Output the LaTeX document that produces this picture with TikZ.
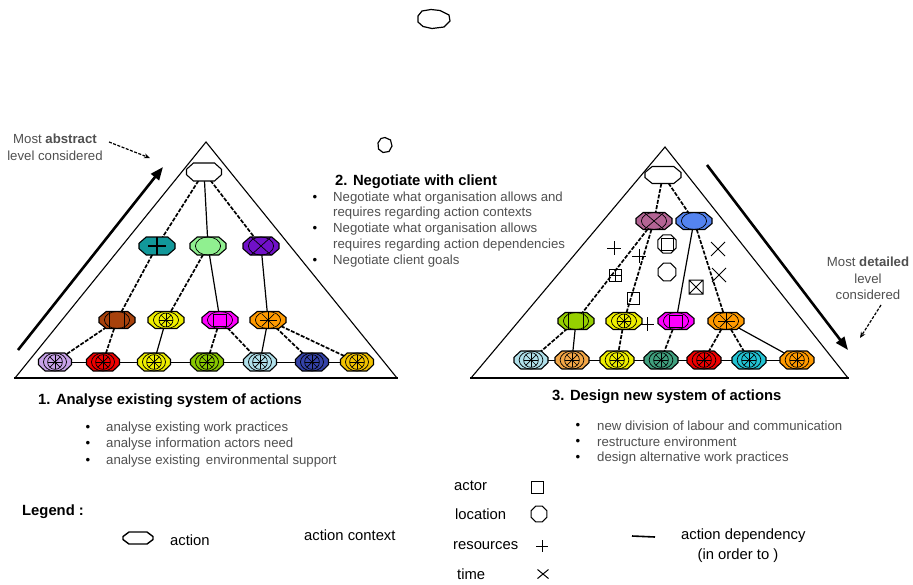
\documentclass[tikz,border=0pt]{standalone}
\usepackage{fontspec}
\setmainfont{Liberation Sans}
\usetikzlibrary{arrows.meta,shapes.geometric,backgrounds}
\definecolor{gtext}{HTML}{505050}
\definecolor{cteal}{HTML}{12989A}
\definecolor{clgreen}{HTML}{90F090}
\definecolor{cpurple}{HTML}{7010C8}
\definecolor{cbrown}{HTML}{A8420C}
\definecolor{cyellow}{HTML}{EEEE00}
\definecolor{cmag}{HTML}{FF00FF}
\definecolor{corange}{HTML}{FF9A00}
\definecolor{clav}{HTML}{C8A2E8}
\definecolor{cred}{HTML}{EE0000}
\definecolor{cgreen}{HTML}{88C800}
\definecolor{clblue}{HTML}{B0E0EA}
\definecolor{cnavy}{HTML}{3442A8}
\definecolor{cgold}{HTML}{F2C200}
\definecolor{cmauve}{HTML}{B46494}
\definecolor{cblue}{HTML}{5484F0}
\definecolor{clime}{HTML}{96D000}
\definecolor{corl}{HTML}{F2A646}
\definecolor{ctgreen}{HTML}{40A07E}
\definecolor{ccyan}{HTML}{22C2D2}
\newcommand{\act}[6]{%
  \node[ellipse,minimum width={2*#5pt},minimum height={2*#6pt},inner sep=0pt] (#1) at (#2) {};
  \begin{scope}[shift={(#2)}]
    \def\hw{#5}\def\hh{#6}%
    \filldraw[fill=#3,oct] (-\hw,-0.3*\hh) -- (-\hw,0.3*\hh) -- (-0.6*\hw,\hh) -- (0.6*\hw,\hh) -- (\hw,0.3*\hh) -- (\hw,-0.3*\hh) -- (0.6*\hw,-\hh) -- (-0.6*\hw,-\hh) -- cycle;
    #4
  \end{scope}}
\newcommand{\patarcs}{\draw[deco] (0,0) ellipse[x radius=0.7*\hw, y radius=\hh];}
\newcommand{\patwheel}{\patarcs\draw[deco] (0,0) circle[radius=0.82*\hh];\foreach \a in {0,45,...,315}{\draw[deco] (0,0) -- (\a:0.82*\hh);}}
\newcommand{\patplus}{\draw[line width=1.5pt] (-0.5*\hw,0) -- (0.5*\hw,0) (0,-\hh) -- (0,\hh);}
\newcommand{\patx}{\patarcs\draw[deco] (-0.55*\hw,-\hh) -- (0.55*\hw,\hh) (-0.55*\hw,\hh) -- (0.55*\hw,-\hh);}
\newcommand{\patsq}{\patarcs\draw[deco] (-0.42*\hw,-\hh) rectangle (0.42*\hw,\hh);}
\newcommand{\patfsq}{\patarcs\draw[deco] (-0.36*\hw,-0.7*\hh) rectangle (0.36*\hw,0.75*\hh);}
\newcommand{\patstar}{\patarcs\foreach \a in {0,45,...,315}{\draw[deco] (0,0) -- (\a:\hh);}\fill (0,0) circle[radius=1.2pt];}
\begin{document}
\begin{tikzpicture}[x=1pt,y=-1pt,
  tri/.style={line width=1.1pt},
  oct/.style={draw=black,line width=1.1pt},
  deco/.style={line width=0.7pt},
  dep/.style={line width=1.7pt,dash pattern=on 4pt off 1.5pt},
  sdep/.style={line width=1.2pt},
  row/.style={line width=1pt},
  sym/.style={line width=1pt},
  gtxt/.style={text=gtext,font=\fontsize{13.2}{15}\selectfont,inner sep=0pt},
  head/.style={font=\bfseries\fontsize{14.8}{17}\selectfont,inner sep=0pt},
  leg/.style={font=\fontsize{14.8}{17}\selectfont,inner sep=0pt},
  bul/.style={font=\fontsize{13.2}{15}\selectfont,inner sep=0pt},
  bigarrow/.style={line width=2.6pt,-{Triangle[length=13pt,width=10pt]}},
  smallarrow/.style={line width=1.2pt,dash pattern=on 3pt off 1.5pt,-{Stealth[length=6pt,width=5pt]}}
]
\useasboundingbox (0,0) rectangle (913,584);

% ---------- left triangle nodes
\act{a0}{204,172}{white}{}{17.5}{9}
\act{a1}{157,246}{cteal}{\patplus}{18}{9}
\act{a2}{208,246}{clgreen}{\patarcs}{18}{9}
\act{a3}{261,246}{cpurple}{\patx}{18}{9}
\act{b1}{117,320}{cbrown}{\patsq}{18}{8.5}
\act{b2}{166,320}{cyellow}{\patwheel}{18}{8.5}
\act{b3}{220,320}{cmag}{\patfsq}{18}{8.5}
\act{b4}{268,320}{corange}{\patstar}{18}{8.5}
\act{c1}{55,362}{clav}{\patwheel}{16.5}{9}
\act{c2}{103,362}{cred}{\patwheel}{16.5}{9}
\act{c3}{154,362}{cyellow}{\patwheel}{16.5}{9}
\act{c4}{207,362}{cgreen}{\patwheel}{16.5}{9}
\act{c5}{260,362}{clblue}{\patwheel}{16.5}{9}
\act{c6}{312,362}{cnavy}{\patwheel}{16.5}{9}
\act{c7}{357,362}{cgold}{\patwheel}{16.5}{9}

% ---------- right triangle nodes
\act{r0}{663,175}{white}{}{18}{8.5}
\act{r1}{654,221}{cmauve}{\patx}{18}{8.5}
\act{r2}{694,221}{cblue}{\patarcs}{18}{8.5}
\act{s1}{576,321}{clime}{\patsq}{18}{8.5}
\act{s2}{624,321}{cyellow}{\patwheel}{18}{8.5}
\act{s3}{676,321}{cmag}{\patfsq}{18}{8.5}
\act{s4}{726,321}{corange}{\patstar}{18}{8.5}
\act{t1}{531,360}{clblue}{\patwheel}{17}{9}
\act{t2}{572,360}{corl}{\patwheel}{17}{9}
\act{t3}{617,360}{cyellow}{\patwheel}{17}{9}
\act{t4}{661,360}{ctgreen}{\patwheel}{17}{9}
\act{t5}{704,360}{cred}{\patwheel}{17}{9}
\act{t6}{749,360}{ccyan}{\patwheel}{17}{9}
\act{t7}{797,360}{corange}{\patwheel}{17}{9}

\begin{scope}[on background layer]
  \fill[white] (0,0) rectangle (913,584);
  % triangles
  \draw[tri] (15,378) -- (206,142) -- (397,378);
  \draw[line width=1.8pt] (14,378) -- (398,378);
  \draw[tri] (471,378) -- (665,147) -- (848,378);
  \draw[line width=1.8pt] (470,378) -- (849,378);
  % left connectors
  \draw[dep] (a0) -- (a1);
  \draw[sdep] (a0) -- (a2);
  \draw[dep] (a0) -- (a3);
  \draw[dep] (a1) -- (b1);
  \draw[dep] (a2) -- (b2);
  \draw[sdep] (a2) -- (b3);
  \draw[sdep] (a3) -- (b4);
  \draw[dep] (b1) -- (c1);
  \draw[dep] (b1) -- (c2);
  \draw[sdep] (b2) -- (c3);
  \draw[dep] (b3) -- (c4);
  \draw[dep] (b3) -- (c5);
  \draw[sdep] (b4) -- (c5);
  \draw[dep] (b4) -- (c6);
  \draw[dep] (b4) -- (c7);
  \draw[row] (c1) -- (c2) -- (c3) -- (c4) -- (c5) -- (c6) -- (c7);
  % right connectors
  \draw[dep] (r0) -- (r1);
  \draw[dep] (r0) -- (r2);
  \draw[dep] (r1) -- (s1);
  \draw[dep] (r1) -- (s2);
  \draw[sdep] (r2) -- (s3);
  \draw[dep] (r2) -- (s4);
  \draw[dep] (s1) -- (t1);
  \draw[sdep] (s1) -- (t2);
  \draw[dep] (s2) -- (t3);
  \draw[dep] (s3) -- (t4);
  \draw[dep] (s4) -- (t5);
  \draw[dep] (s4) -- (t6);
  \draw[sdep] (s4) -- (t7);
  \draw[row] (t1) -- (t2) -- (t3) -- (t4) -- (t5) -- (t6) -- (t7);
\end{scope}

% ---------- context symbols in right triangle
\draw[sym] (607,248) -- (621,248) (614,241) -- (614,255);
\draw[sym] (632,256) -- (646,256) (639,249) -- (639,263);
\draw[sym] (640,324) -- (654,324) (647,317) -- (647,331);
\draw[sym] (609,269) rectangle (621,281) (609,275) -- (621,275) (615,269) -- (615,281);
\draw[sym] (627,292) rectangle (639,304);
\draw[sym] (667,244) +(22.5:10) -- +(67.5:10) -- +(112.5:10) -- +(157.5:10) -- +(202.5:10) -- +(247.5:10) -- +(292.5:10) -- +(337.5:10) -- cycle;
\draw[sym] (661,238) rectangle (673,250);
\draw[sym] (667,272) +(22.5:9.5) -- +(67.5:9.5) -- +(112.5:9.5) -- +(157.5:9.5) -- +(202.5:9.5) -- +(247.5:9.5) -- +(292.5:9.5) -- +(337.5:9.5) -- cycle;
\draw[sym] (689,280) rectangle (703,294) (689,280) -- (703,294) (689,294) -- (703,280);
\draw[sym] (711,242) -- (725,256) (711,256) -- (725,242);
\draw[sym] (712,268) -- (726,282) (712,282) -- (726,268);

% ---------- free shapes
\draw[line width=1.2pt] (434,19) +(-16,-3) -- +(-12,-8) -- +(-3,-9.5) -- +(6,-8.5) -- +(15,-4) -- +(16,2) -- +(10,8) -- +(-2,9.5) -- +(-11,7.5) -- +(-16,3) -- cycle;
\draw[line width=1.2pt] (385,145) +(0,-7.5) -- +(5.5,-5) -- +(7,1) -- +(4,6.5) -- +(-2,7.5) -- +(-6.5,4) -- +(-7,-2) -- +(-4,-6.5) -- cycle;

% ---------- arrows
\coordinate (la1) at (18,350);
\coordinate (la2) at (163,167);
\draw[bigarrow] (la1) -- (la2);
\coordinate (ra1) at (707,165);
\coordinate (ra2) at (848,350);
\draw[bigarrow] (ra1) -- (ra2);

% ---------- texts
\node[gtxt,anchor=center] (abs1) at (55,139) {Most \textbf{abstract}};
\node[gtxt,anchor=center] (abs2) at (55,156) {level considered};
\coordinate (absstart) at (109,142);
\coordinate (absend) at (150,158);
\draw[smallarrow] (absstart) -- (absend);

\node[gtxt,anchor=center] (det1) at (868,262) {Most \textbf{detailed}};
\node[gtxt,anchor=center] (det2) at (868,279) {level};
\node[gtxt,anchor=center] (det3) at (868,295) {considered};
\coordinate (detstart) at (881,305);
\coordinate (detend) at (860,338);
\draw[smallarrow] (detstart) -- (detend);

\node[head,anchor=west] (h2) at (335,182) {2. Negotiate with client};
\node[bul] (b21) at (315,198) {•};
\node[gtxt,anchor=west] (n21) at (333,198) {Negotiate what organisation allows and};
\node[gtxt,anchor=west] (n22) at (333,213) {requires regarding action contexts};
\node[bul] (b23) at (315,229) {•};
\node[gtxt,anchor=west] (n23) at (333,229) {Negotiate what organisation allows};
\node[gtxt,anchor=west] (n24) at (333,245) {requires regarding action dependencies};
\node[bul] (b25) at (315,261) {•};
\node[gtxt,anchor=west] (n25) at (333,261) {Negotiate client goals};

\node[head,anchor=west] (h1) at (38,401) {1. Analyse existing system of actions};
\node[bul] (b11) at (88,428) {•};
\node[gtxt,anchor=west] (n11) at (106,428) {analyse existing work practices};
\node[bul] (b12) at (88,444) {•};
\node[gtxt,anchor=west] (n12) at (106,444) {analyse information actors need};
\node[bul] (b13) at (88,461) {•};
\node[gtxt,anchor=west] (n13) at (106,461) {analyse existing\, environmental support};

\node[head,anchor=west] (h3) at (552,397) {3. Design new system of actions};
\node[bul] (b31) at (578,426) {•};
\node[gtxt,anchor=west] (n31) at (597,426) {new division of labour and communication};
\node[bul] (b32) at (578,442) {•};
\node[gtxt,anchor=west] (n32) at (597,442) {restructure environment};
\node[bul] (b33) at (578,458) {•};
\node[gtxt,anchor=west] (n33) at (597,458) {design alternative work practices};

% ---------- legend
\node[leg,font=\bfseries\fontsize{14.8}{17}\selectfont,anchor=west] (lg) at (22,512) {Legend :};
\draw[line width=1.4pt] (138,538) +(-15,-1.5) -- +(-15,1.5) -- +(-9,6) -- +(9,6) -- +(15,1.5) -- +(15,-1.5) -- +(9,-6) -- +(-9,-6) -- cycle;
\node[leg,anchor=west] (lact) at (170,540) {action};
\node[leg,anchor=west] (lctx) at (304,535) {action context};
\node[leg,anchor=west] (lactor) at (454,486) {actor};
\draw[sym] (531,481) rectangle (543,493);
\node[leg,anchor=west] (lloc) at (455,514) {location};
\draw[sym] (539,514) +(22.5:8.5) -- +(67.5:8.5) -- +(112.5:8.5) -- +(157.5:8.5) -- +(202.5:8.5) -- +(247.5:8.5) -- +(292.5:8.5) -- +(337.5:8.5) -- cycle;
\node[leg,anchor=west] (lres) at (453,546) {resources};
\draw[sym] (536,546) -- (548,546) (542,540) -- (542,552);
\node[leg,anchor=west] (ltime) at (457,574) {time};
\draw[sym] (537.5,569.5) -- (548.5,578.5) (537.5,578.5) -- (548.5,569.5);
\coordinate (ld1) at (632,536);
\coordinate (ld2) at (655,537);
\draw[line width=1.6pt] (ld1) -- (ld2);
\node[leg,anchor=west] (ldep) at (681,536) {action dependency};
\node[leg,anchor=center] (lord) at (738,556) {(in order to )};
\end{tikzpicture}
\end{document}
